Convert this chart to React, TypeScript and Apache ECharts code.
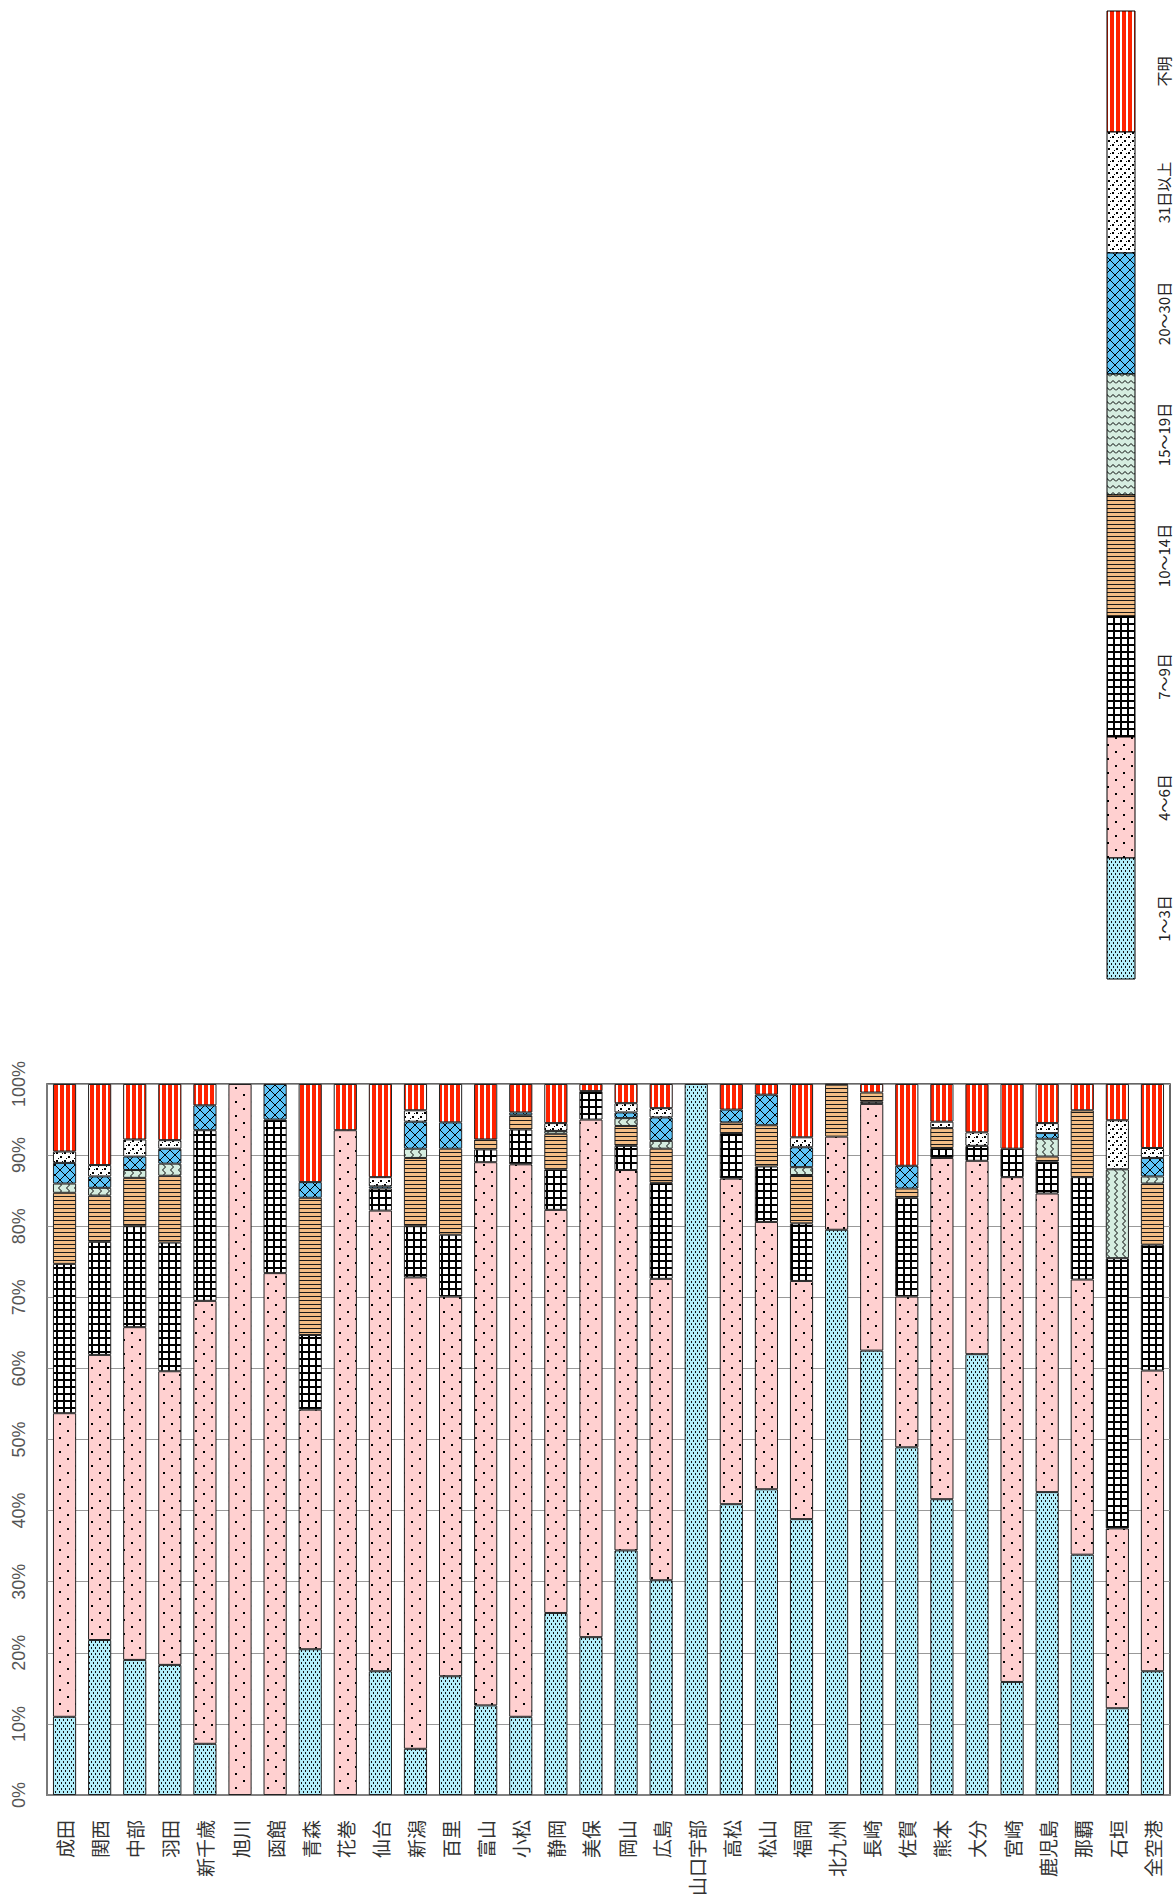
import React, { useEffect, useRef } from "react";
import * as echarts from "echarts";

const categories = ["成田","関西","中部","羽田","新千歳","旭川","函館","青森","花巻","仙台","新潟","百里","富山","小松","静岡","美保","岡山","広島","山口宇部","高松","松山","福岡","北九州","長崎","佐賀","熊本","大分","宮崎","鹿児島","那覇","石垣","全空港"];

const seriesNames = ["1〜3日","4〜6日","7〜9日","10〜14日","15〜19日","20〜30日","31日以上","不明"];

const d1to3 = [11.0,21.8,19.0,18.3,7.2,0,0,20.5,0,17.4,6.5,16.7,12.6,11.0,25.6,22.2,34.4,30.2,100,40.9,43.0,38.8,79.5,62.5,48.9,41.6,62.0,15.9,42.6,33.8,12.2,17.4];
const d4to6 = [42.7,40.1,46.8,41.3,62.3,100,73.4,33.7,93.5,64.8,66.3,53.4,76.4,77.7,56.7,72.8,53.5,42.4,0,45.8,37.6,33.5,13.1,34.7,21.2,48.0,27.2,71.0,42.0,38.7,25.3,42.3];
const d7to9 = [21.0,15.9,14.2,18.1,24.0,0,21.6,10.5,0,3.1,7.2,8.7,1.8,4.9,5.7,4.0,3.4,13.5,0,6.4,7.8,8.1,0,0.3,13.9,1.4,2.1,4.0,4.5,14.4,38.0,17.7];
const d10to14 = [10.0,6.5,6.8,9.4,0,0,0,19.3,0,0,9.6,12.1,1.4,2.0,5.0,0,2.8,4.8,0,1.5,5.8,6.8,7.3,1.3,1.3,2.8,0,0,0.7,9.4,0,8.6];
const d15to19 = [1.3,1.1,1.1,1.7,0,0,0,0,0,0,1.3,0,0,0,0.4,0,1.1,1.1,0,0,0,1.1,0,0,0,0,0,0,2.5,0,12.5,1.0];
const d20to30 = [2.9,1.6,1.9,2.1,3.5,0,5.0,2.2,0,0.3,3.8,3.7,0,0.4,0,0,0.8,3.3,0,1.8,4.3,2.8,0,0,3.2,0,0,0,0.8,0,0,2.6];
const d31plus = [1.6,1.6,2.4,1.2,0,0,0,0,0,1.3,1.6,0,0,0,1.1,0,1.3,1.3,0,0,0,1.4,0,0,0,0.9,1.9,0,1.4,0,6.9,1.4];
const dUnknown = [9.5,11.4,7.8,7.9,3.0,0,0,13.8,6.5,13.1,3.7,5.4,7.8,4.0,5.5,1.0,2.7,3.4,0,3.6,1.5,7.5,0.1,1.2,11.5,5.3,6.8,9.1,5.5,3.7,5.1,9.0];

const seriesData = [d1to3, d4to6, d7to9, d10to14, d15to19, d20to30, d31plus, dUnknown];

function makePattern(w: number, h: number, draw: (ctx: CanvasRenderingContext2D) => void) {
  const c = document.createElement("canvas");
  c.width = w;
  c.height = h;
  const ctx = c.getContext("2d") as CanvasRenderingContext2D;
  draw(ctx);
  return { image: c.toDataURL(), repeat: "repeat", imageWidth: w, imageHeight: h } as any;
}

function buildPatterns() {
  const p13 = makePattern(4, 6, (ctx) => {
    ctx.fillStyle = "#B2EEFA"; ctx.fillRect(0, 0, 4, 6);
    ctx.fillStyle = "#111"; ctx.fillRect(1, 0, 1, 2); ctx.fillRect(3, 3, 1, 2);
  });
  const p46 = makePattern(16, 14, (ctx) => {
    ctx.fillStyle = "#FFD0D0"; ctx.fillRect(0, 0, 16, 14);
    ctx.fillStyle = "#000"; ctx.fillRect(3, 2, 2, 2); ctx.fillRect(11, 9, 2, 2);
  });
  const p79 = makePattern(7, 7, (ctx) => {
    ctx.fillStyle = "#fff"; ctx.fillRect(0, 0, 7, 7);
    ctx.fillStyle = "#000"; ctx.fillRect(0, 0, 7, 2); ctx.fillRect(0, 0, 2, 7);
  });
  const p1014 = makePattern(4, 4, (ctx) => {
    ctx.fillStyle = "#F4BE86"; ctx.fillRect(0, 0, 4, 4);
    ctx.fillStyle = "#1a1a1a"; ctx.fillRect(0, 0, 4, 1);
  });
  const zig = (ctx: CanvasRenderingContext2D, pts: number[][]) => {
    ctx.strokeStyle = "#000"; ctx.lineWidth = 1; ctx.beginPath();
    ctx.moveTo(pts[0][0], pts[0][1]);
    for (let i = 1; i < pts.length; i++) ctx.lineTo(pts[i][0], pts[i][1]);
    ctx.stroke();
  };
  const p1519 = makePattern(8, 6, (ctx) => {
    ctx.fillStyle = "#D5EDE0"; ctx.fillRect(0, 0, 8, 6);
    zig(ctx, [[2.5, 0], [5.5, 3], [2.5, 6]]);
  });
  const p1519L = makePattern(6, 7, (ctx) => {
    ctx.fillStyle = "#D5EDE0"; ctx.fillRect(0, 0, 6, 7);
    zig(ctx, [[0, 5.5], [3, 2.5], [6, 5.5]]);
  });
  const p2030 = makePattern(10, 10, (ctx) => {
    ctx.fillStyle = "#5EC4F8"; ctx.fillRect(0, 0, 10, 10);
    ctx.strokeStyle = "#000"; ctx.lineWidth = 1; ctx.beginPath();
    ctx.moveTo(0, 0); ctx.lineTo(10, 10); ctx.moveTo(10, 0); ctx.lineTo(0, 10); ctx.stroke();
  });
  const p31 = makePattern(8, 8, (ctx) => {
    ctx.fillStyle = "#fff"; ctx.fillRect(0, 0, 8, 8);
    ctx.fillStyle = "#000"; ctx.fillRect(0, 0, 2, 2); ctx.fillRect(4, 4, 2, 2);
    ctx.fillRect(6, 1, 1, 1); ctx.fillRect(2, 6, 1, 1);
  });
  const pUnk = makePattern(6, 2, (ctx) => {
    ctx.fillStyle = "#fff"; ctx.fillRect(0, 0, 6, 2);
    ctx.fillStyle = "#FF2200"; ctx.fillRect(0, 0, 4, 2);
  });
  return { bars: [p13, p46, p79, p1014, p1519, p2030, p31, pUnk], legend: [p13, p46, p79, p1014, p1519L, p2030, p31, pUnk] };
}

export default function App() {
  const ref = useRef<HTMLDivElement>(null);
  useEffect(() => {
    if (!ref.current) return;
    const chart = echarts.init(ref.current, undefined, { renderer: "svg" });
    const pats = buildPatterns();

    const legendTop = 11;
    const segH = 121;
    const legendX = 1107;
    const legendW = 28;
    const legendGraphics: any[] = [];
    for (let i = 0; i < seriesNames.length; i++) {
      const idx = seriesNames.length - 1 - i; // top is 不明
      const y = legendTop + i * segH;
      legendGraphics.push({
        type: "rect",
        shape: { x: legendX, y, width: legendW, height: segH },
        style: { fill: pats.legend[idx], stroke: "#000", lineWidth: 1 },
        z: 10,
      });
      legendGraphics.push({
        type: "text",
        x: 1163,
        y: y + segH / 2,
        rotation: Math.PI / 2,
        style: {
          text: seriesNames[idx],
          fill: "#222",
          font: '15px "Noto Sans CJK JP", sans-serif',
          align: "center",
          verticalAlign: "middle",
        },
        z: 10,
      });
    }

    chart.setOption({
      animation: false,
      backgroundColor: "#fff",
      grid: {
        left: 47, right: 4, top: 1084, bottom: 106,
        show: true, borderColor: "#333", borderWidth: 1.5, containLabel: false,
      },
      xAxis: {
        type: "category",
        data: categories,
        axisLine: { show: true, lineStyle: { color: "#808080", width: 2 } },
        axisTick: { show: false },
        axisLabel: {
          rotate: 90, margin: 25, interval: 0,
          fontSize: 19, color: "#333",
          fontFamily: '"Noto Sans CJK JP", sans-serif',
        },
      },
      yAxis: {
        type: "value",
        min: 0, max: 100, interval: 10,
        axisLine: { show: true, lineStyle: { color: "#808080", width: 1.5 } },
        axisTick: { show: false },
        splitLine: { show: true, lineStyle: { color: "#999", width: 1 } },
        axisLabel: {
          formatter: "{value}%", rotate: 90, margin: 19,
          fontSize: 18, color: "#555",
          fontFamily: '"Liberation Sans", Arial, sans-serif',
        },
      },
      series: seriesData.map((arr, i) => ({
        name: seriesNames[i],
        type: "bar",
        stack: "total",
        barCategoryGap: "34%",
        data: arr.map((v) => (v === 0 ? "-" : v)),
        itemStyle: { color: pats.bars[i], borderColor: "#222", borderWidth: 1 },
        emphasis: { disabled: true },
      })),
      graphic: legendGraphics,
    });
    return () => chart.dispose();
  }, []);
  return (
    <div
      ref={ref}
      style={{ position: "absolute", left: 0, top: 0, width: 1174, height: 1901, background: "#fff" }}
    />
  );
}
